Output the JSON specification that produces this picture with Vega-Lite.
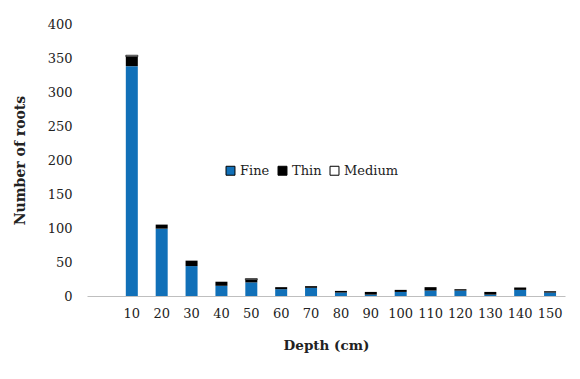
{
  "$schema": "https://vega.github.io/schema/vega-lite/v6.json",
  "width": 478,
  "height": 272,
  "autosize": "none",
  "padding": {"left": 87, "top": 24, "right": 15, "bottom": 83},
  "background": "white",
  "config": {"view": {"stroke": null}, "font": "DejaVu Serif"},
  "data": {
    "values": [
      {"depth": "10", "type": "Fine", "ord": 1, "n": 338},
      {"depth": "10", "type": "Thin", "ord": 2, "n": 14},
      {"depth": "10", "type": "Medium", "ord": 3, "n": 2},
      {"depth": "20", "type": "Fine", "ord": 1, "n": 99},
      {"depth": "20", "type": "Thin", "ord": 2, "n": 6},
      {"depth": "30", "type": "Fine", "ord": 1, "n": 44},
      {"depth": "30", "type": "Thin", "ord": 2, "n": 8},
      {"depth": "40", "type": "Fine", "ord": 1, "n": 15},
      {"depth": "40", "type": "Thin", "ord": 2, "n": 6},
      {"depth": "50", "type": "Fine", "ord": 1, "n": 20},
      {"depth": "50", "type": "Thin", "ord": 2, "n": 4},
      {"depth": "50", "type": "Medium", "ord": 3, "n": 1.5},
      {"depth": "60", "type": "Fine", "ord": 1, "n": 10},
      {"depth": "60", "type": "Thin", "ord": 2, "n": 3},
      {"depth": "70", "type": "Fine", "ord": 1, "n": 12},
      {"depth": "70", "type": "Thin", "ord": 2, "n": 2.5},
      {"depth": "80", "type": "Fine", "ord": 1, "n": 5},
      {"depth": "80", "type": "Thin", "ord": 2, "n": 2.5},
      {"depth": "90", "type": "Fine", "ord": 1, "n": 2},
      {"depth": "90", "type": "Thin", "ord": 2, "n": 4},
      {"depth": "100", "type": "Fine", "ord": 1, "n": 6},
      {"depth": "100", "type": "Thin", "ord": 2, "n": 3},
      {"depth": "110", "type": "Fine", "ord": 1, "n": 8},
      {"depth": "110", "type": "Thin", "ord": 2, "n": 5},
      {"depth": "120", "type": "Fine", "ord": 1, "n": 8},
      {"depth": "120", "type": "Thin", "ord": 2, "n": 2},
      {"depth": "130", "type": "Fine", "ord": 1, "n": 2},
      {"depth": "130", "type": "Thin", "ord": 2, "n": 4},
      {"depth": "140", "type": "Fine", "ord": 1, "n": 9},
      {"depth": "140", "type": "Thin", "ord": 2, "n": 3.5},
      {"depth": "150", "type": "Fine", "ord": 1, "n": 5},
      {"depth": "150", "type": "Thin", "ord": 2, "n": 2}
    ]
  },
  "mark": {"type": "bar", "size": 12, "stroke": "black", "strokeWidth": 0, "strokeOpacity": 1},
  "encoding": {
    "x": {
      "field": "depth",
      "type": "ordinal",
      "scale": {"domain": [" ", "10", "20", "30", "40", "50", "60", "70", "80", "90", "100", "110", "120", "130", "140", "150"], "paddingInner": 0, "paddingOuter": 0},
      "axis": {
        "title": "Depth (cm)",
        "labelAngle": 0,
        "ticks": false,
        "domainColor": "#bfbfbf",
        "domainWidth": 1,
        "labelFont": "DejaVu Serif",
        "labelFontSize": 13,
        "labelColor": "#222222",
        "labelPadding": 11,
        "titleFont": "DejaVu Serif",
        "titleFontSize": 13.5,
        "titleFontWeight": "bold",
        "titleColor": "#222222",
        "titlePadding": 18
      }
    },
    "y": {
      "field": "n",
      "type": "quantitative",
      "stack": "zero",
      "scale": {"domain": [0, 400], "nice": false},
      "axis": {
        "title": "Number of roots",
        "values": [0, 50, 100, 150, 200, 250, 300, 350, 400],
        "grid": false,
        "domain": false,
        "ticks": false,
        "labelFont": "DejaVu Serif",
        "labelFontSize": 13,
        "labelColor": "#222222",
        "labelPadding": 15,
        "titleFont": "DejaVu Serif",
        "titleFontSize": 14,
        "titleFontWeight": "bold",
        "titleColor": "#222222",
        "titlePadding": 20
      }
    },
    "color": {
      "field": "type",
      "type": "nominal",
      "scale": {"domain": ["Fine", "Thin", "Medium"], "range": ["#1170b8", "#000000", "#ffffff"]},
      "legend": {
        "title": null,
        "orient": "none",
        "legendX": 137,
        "legendY": 140,
        "direction": "horizontal",
        "symbolType": "square",
        "symbolSize": 80,
        "symbolStrokeColor": "black",
        "symbolStrokeWidth": 1,
        "labelFont": "DejaVu Serif",
        "labelFontSize": 13,
        "labelColor": "#222222",
        "columnPadding": 6,
        "labelOffset": 3
      }
    },
    "strokeWidth": {
      "condition": {"test": "datum.type === 'Medium'", "value": 0.8},
      "value": 0
    },
    "order": {"field": "ord", "type": "quantitative"}
  }
}
